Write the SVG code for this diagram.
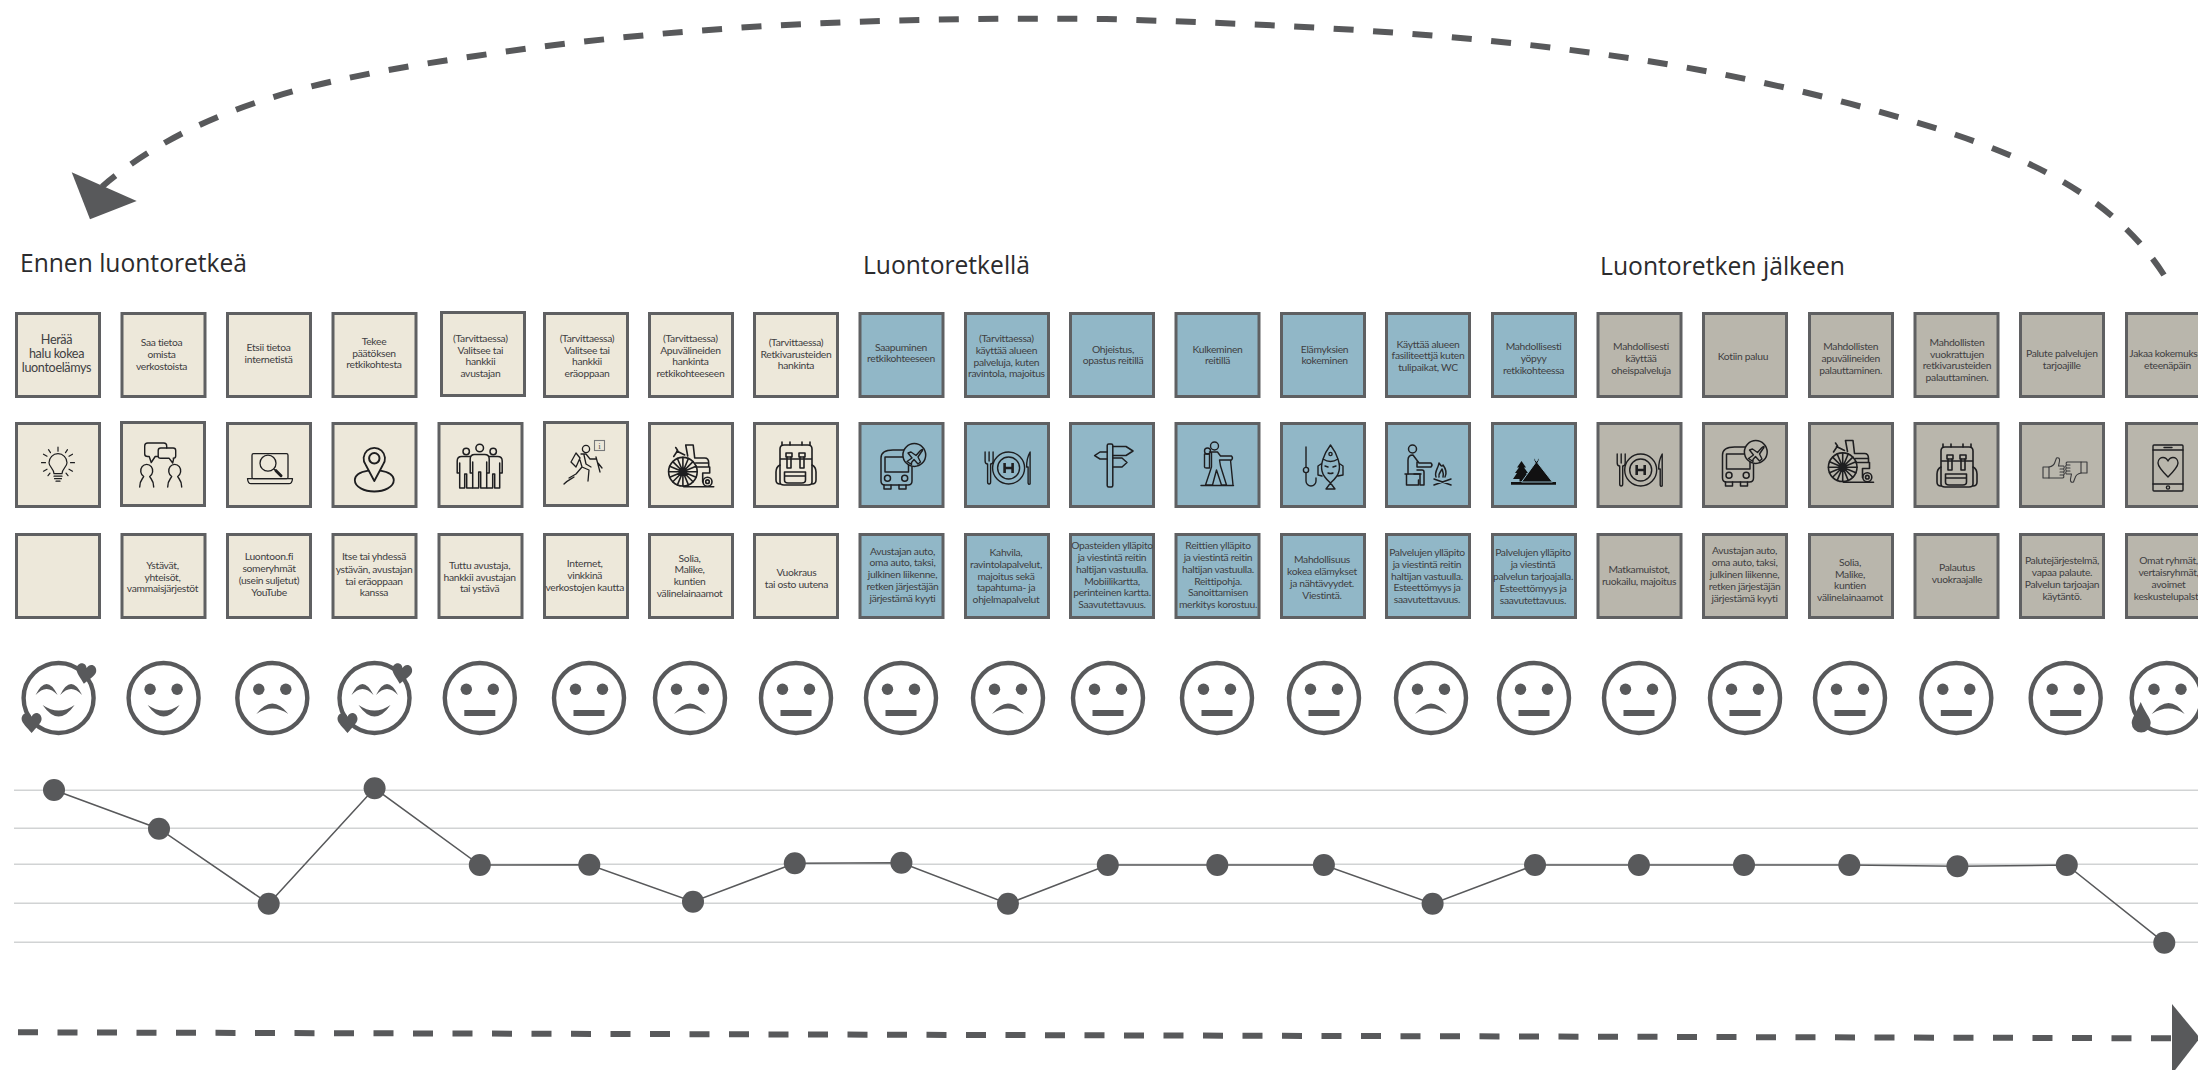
<svg xmlns="http://www.w3.org/2000/svg" width="2198" height="1070" viewBox="0 0 2198 1070">
<style>
.b{stroke:#5f6062;stroke-width:3}
.be{fill:#ede8da}.bl{fill:#91b7c7}.gr{fill:#b9b6ac}
.t{font-family:Lato,"Noto Sans",sans-serif;font-size:10.3px;letter-spacing:-.3px;fill:#3f4042;text-anchor:middle}
.h{font-family:"Open Sans","Noto Sans",sans-serif;font-size:25.5px;fill:#2b2b2d}
.ic{fill:none;stroke:#1e1e20;stroke-width:1.5;stroke-linejoin:round;stroke-linecap:round}
.fa{fill:#58595b}
.fo{fill:none;stroke:#58595b;stroke-width:4.4}
.dash{fill:none;stroke:#58595b;stroke-width:6;stroke-dasharray:20 19.5}
.grid{stroke:#d1d3d4;stroke-width:1.4}
.pl{fill:none;stroke:#58595b;stroke-width:1.5}
</style>
<defs>
<g id="i-bulb" class="ic" style="stroke-width:1.2"><path d="M-4,8C-4,3-9,1-9,-3A9,9 0 1 1 9,-3C9,1 4,3 4,8ZM-4,10.5H4M-3.5,13H3.5M-2,15.5H2M-16.5,-3H-12.5M-14.5,-11.5L-11,-9.5M-9.5,-16L-7.5,-13M0,-18.5V-14.5M9.5,-16L7.5,-13M14.5,-11.5L11,-9.5M16.5,-3H12.5M14.5,5.5L11,3.5M-14.5,5.5L-11,3.5M10,10L8,7.5M-10,10L-8,7.5"/></g>
<g id="i-chat" class="ic" style="stroke-width:1.4"><path d="M6,-17V-19Q6,-22 3,-22H-13Q-16,-22-16,-19V-11Q-16,-8.5-13,-8.5H-11.5L-9.5,-2.5L-5.5,-8.5H-3"/><path d="M0,-17H12.5Q15,-17 15,-14.5V-9Q15,-6.7 12.5,-6.7H13L12,-2L8.5,-6.7H0Q-2.5,-6.7-2.5,-9V-14.5Q-2.5,-17 0,-17Z"/><path d="M-21,22C-21,15-18,14-17,11.5A6,6.5 0 1 1 -11,11.5C-10,14-7,15-7,22"/><path d="M7,22C7,15 10,14 11,11.5A6,6.5 0 1 1 17,11.5C18,14 21,15 21,22"/></g>
<g id="i-lap" class="ic" style="stroke-width:1.3"><rect x="-18" y="-13" width="36" height="25" rx="1.5"/><path d="M-22.5,12H22.5Q22,17 19,17H-19Q-22,17-22.5,12Z"/><circle cx="-2" cy="-3.5" r="8"/><path d="M4,2.5L6,4"/><path d="M6,4L11,9" style="stroke-width:3"/></g>
<g id="i-pin" class="ic" style="stroke-width:1.8"><path d="M0,11L-8.5,-5A10.7,10.7 0 1 1 8.5,-5Z"/><circle cy="-11.7" r="5.2" style="stroke-width:2"/><path d="M-6,0.6C-14,2-19.5,5-19.5,10C-19.5,17-10,21.5 0,21.5C10,21.5 19.5,17 19.5,10C19.5,5 14,2 6,0.6"/></g>
<g id="i-three" class="ic" style="stroke-width:1.5"><circle cy="-18" r="3.8"/><circle cx="-13.5" cy="-14.5" r="3.2"/><circle cx="13.5" cy="-14.5" r="3.2"/><path d="M-9.5,7V-7Q-9.5,-11.5-5,-11.5H5Q9.5,-11.5 9.5,-7V7H7V-4M-7,-4V7H-9.5M-7,-4V22H-1V6H1V22H7V-4"/><path d="M-9.5,-9.5H-18Q-22.5,-9.5-22.5,-5V7H-20V-3M-20,-3V22H-15V8H-13V22H-7.5"/><path d="M9.5,-9.5H18Q22.5,-9.5 22.5,-5V7H20V-3M20,-3V22H15V8H13V22H7.5"/></g>
<g id="i-hike" class="ic" style="stroke-width:1.3"><circle cx="3" cy="-16" r="3.6"/><path d="M-7,-12L-12,-3L-7,2L-3,-7ZM-2,-11L3,-11L7,-6L13,-6M-3,-5L-1,2L-7,9L-14,13M-1,2L6,5L5,16M1,-10L3,-1L8,2M13,-8L17,7M15,-2L19,3M-19,19C-15,15-12,14-9,12"/></g>
<g id="i-wc" class="ic" style="stroke-width:1.6"><circle cx="-7.8" cy="5.7" r="14.3"/><circle cx="-7.8" cy="5.7" r="2.2"/><path d="M-7.8,-8.6V20M-22,5.7H6.5M-17.9,-4.4L2.3,15.8M2.3,-4.4L-17.9,15.8M-13.3,-7.5L-2.3,18.9M-2.3,-7.5L-13.3,18.9M-21,0.2L5.4,11.2M-21,11.2L5.4,0.2"/><path d="M-17,-9.5L-13,-15.5L-15,-18.5M-14,-15L-6,-11M-5,-21L2.5,-21L4,-8H14Q18,-8 18,-3V1H5M-5,-21L-3,-10M5,-3H18M8,1H19V7H12V16"/><circle cx="16.8" cy="15.7" r="4.5"/><circle cx="16.8" cy="15.7" r="1.8"/><path d="M-7,20.7H23"/></g>
<g id="i-pack" class="ic" style="stroke-width:1.6"><path d="M-12,-20H12Q16,-20 16,-16V17Q16,20 12,20H-12Q-16,20-16,17V-16Q-16,-20-12,-20ZM-16,-6H16"/><path d="M-14,-23V-20M-6,-23V-20M6,-23V-20M14,-23V-20"/><rect x="-10" y="-12" width="6" height="4"/><rect x="3" y="-12" width="6" height="4"/><path d="M-9,-8V3H-5V-8M4,-8V3H8V-8"/><path d="M-11.5,7H9.5V15Q9.5,18 6,18H-8Q-11.5,18-11.5,15ZM-11.5,11H9.5"/><path d="M-16,0Q-20,2-20,7V15Q-20,19-16,19M16,0Q20,2 20,7V15Q20,19 16,19"/></g>
<g id="i-bus"><g class="ic"><path d="M-22,-9Q-22,-17-10,-17H2Q9,-17 9,-9V14Q9,18 5,18H-18Q-22,18-22,14Z"/><rect x="-18" y="-10" width="23.5" height="15"/><circle cx="-15.5" cy="11.3" r="3"/><circle cx="1.7" cy="11.3" r="3"/><path d="M-19,18V22H-12V18M-4,18V22H3V18"/></g><circle cx="11.3" cy="-12" r="11.4" fill="currentColor" stroke="#1e1e20" stroke-width="1.5"/><g class="ic" style="stroke-width:1.4"><path d="M4,-5.5L9,-9L5,-14L8,-15L13,-11.5L17,-16Q19,-18 19.5,-17.5Q20,-16.5 18,-14.5L15,-10L17.5,-5L15,-3L11,-7.5L8.5,-4.5V-2.5Z"/></g></g>
<g id="i-plate" class="ic" style="stroke-width:1.4"><circle r="16"/><circle r="11"/><path d="M-4,-5V5M4,-5V5M-4,0H4" style="stroke-width:2.6;stroke-linecap:butt"/><path d="M-23.5,-16V-7Q-23.5,-4-21,-4V14Q-21,16-19.5,16Q-18,16-18,14V-4Q-15.5,-4-15.5,-7V-16M-19.5,-16V-7"/><path d="M21.5,-16Q18,-10 18,-1H19.5V15Q20,17 21.5,16Z"/></g>
<g id="i-sign" class="ic" style="stroke-width:1.5"><rect x="-2.8" y="-21" width="5.6" height="43" rx="1.5"/><path d="M2.8,-18.5H16L23,-14L16,-9.5H2.8M2.8,-7H12L17,-2.5L12,2H2.8M-2.8,-13H-10L-15.4,-9.3L-10,-6H-2.8"/></g>
<g id="i-hike2" class="ic" style="stroke-width:1.4"><circle cx="-3" cy="-18" r="4"/><circle cx="-10" cy="-13" r="3"/><path d="M-13,-10V3Q-13,4-11,4H-8V-10ZM-8,-12H0L3,-8H14Q16,-6 14,-4H2L3,2L9,21H4L-1,6L-5,21H-12L-6,3V-12M13,-4L15.5,21M-16.5,21.5H16"/></g>
<g id="i-fish" class="ic" style="stroke-width:1.4"><path d="M-19,-20V0"/><circle cx="-19" cy="3" r="2.6"/><path d="M-19,5.6V14A5,5 0 0 0 -9,14L-9,11"/><path d="M5.5,-22C13,-12 15.5,-2 14,4C13,9 9,13 5.5,16C2,13-2,9-3,4C-4.5,-2-2,-12 5.5,-22ZM5.5,16L10,22H1ZM15,-3L18,-1V8L13,9M-4,-3L-7,-1V8L-3,9M-2,-8Q5.5,-3 13,-8M0,-1L3,0M8,0L11,-1M3,6Q5.5,7 8,6"/><circle cx="5.5" cy="-13" r="1.6"/></g>
<g id="i-fire" class="ic" style="stroke-width:1.5"><circle cx="-15.5" cy="-17" r="4"/><path d="M-20,8V-6Q-20,-11-15,-11L-9,-3H3Q5,-1 3,1H-11M-11,1V-4M-11,4H-6Q-4,4-4,6V19H-8V8H-14"/><path d="M-23,8H-7M-21.5,8V19H-9.5V14"/><path d="M8,11C6,6 10,3 11,-3C13,0 14,1 15,-1C18,3 19,7 17,11M11,11C10,7 13,6 14,3C15,6 16,8 15,11M6,13L23,19M6,19L23,13"/></g>
<g id="i-tent"><path fill="#111" d="M-22.5,10H22.5V12.7H-22.5ZM-12,-11L-7.5,-4.5H-9.5L-5.5,1H-7.5L-3.5,7H-10V9.5H-14V7H-20.5L-16.5,1H-18.5L-14.5,-4.5H-16.5Z"/><path fill="#111" stroke="#91b7c7" stroke-width="1" d="M-12,10L1.8,-9L-0.5,-13.5H0.8L3,-10.5L5.2,-13.5H6.5L4.2,-9L19,10Z"/></g>
<g id="i-thumb"><g id="th" class="ic" style="stroke-width:1.1;stroke:#3a3a3c"><rect x="-22" y="-3" width="6" height="11"/><path d="M-16,-3Q-11,-4-10,-8L-8.5,-12Q-5,-13-5.5,-9L-6.5,-4H-1.5Q0,-3-1.5,-1H-5M-1.5,-1Q0,1-1.5,2H-5M-1.5,2Q0,4-1.5,5H-5M-1.5,5Q-0.5,8-2.5,8H-16"/></g><use href="#th" transform="rotate(180)"/></g>
<g id="i-phone" class="ic" style="stroke-width:1.4"><rect x="-15" y="-23" width="30" height="46" rx="1"/><path d="M-15,-18H15M-15,16H15M-4,-20.5H4"/><circle cy="19.5" r="1.6"/><path d="M0,9C-5,4-10,-1-10,-5C-10,-9-7,-10.5-5,-10.5C-2.5,-10.5-1,-9 0,-7C1,-9 2.5,-10.5 5,-10.5C7,-10.5 10,-9 10,-5C10,-1 5,4 0,9Z"/></g>
<path id="hrt" d="M0,10C-4,5-10,0-10,-4C-10,-8-7,-10-5,-10C-3,-10-1,-9 0,-6C1,-9 3,-10 5,-10C7,-10 10,-8 10,-4C10,0 4,5 0,10Z"/>
<g id="f-n"><circle r="35" class="fo"/><circle cx="-13.5" cy="-8.7" r="5.7" class="fa"/><circle cx="13.5" cy="-8.7" r="5.7" class="fa"/><rect x="-15.5" y="12" width="31" height="6" class="fa"/></g>
<g id="f-h"><circle r="35" class="fo"/><circle cx="-13.5" cy="-8.7" r="5.7" class="fa"/><circle cx="13.5" cy="-8.7" r="5.7" class="fa"/><path class="fa" d="M-16,7Q0,18 16,7Q0,30-16,7Z"/></g>
<g id="f-s"><circle r="35" class="fo"/><circle cx="-13.5" cy="-8.7" r="5.7" class="fa"/><circle cx="13.5" cy="-8.7" r="5.7" class="fa"/><path class="fa" d="M-16,16Q0,-5 16,16Q0,5-16,16Z"/></g>
<g id="f-l"><circle r="35" class="fo"/><path class="fa" d="M-23,-3Q-12,-25-1,-3Q-12,-15-23,-3ZM1.5,-3Q12.5,-25 23.5,-3Q12.5,-15 1.5,-3ZM-16,7Q0,18 16,7Q0,30-16,7Z"/><use href="#hrt" class="fa" transform="translate(27,-24) rotate(10)"/><use href="#hrt" class="fa" transform="translate(-27,25)"/></g>
<g id="f-c"><circle r="35" class="fo"/><circle cx="-12.7" cy="-8.7" r="5.7" class="fa"/><circle cx="14.3" cy="-8.7" r="5.7" class="fa"/><path class="fa" d="M-15,16Q2,-6 18,16Q2,5-15,16Z"/><path class="fa" d="M-26,4C-22,14-16,20-16,25A9.5,9.5 0 0 1 -35,25C-35,20-30,14-26,4Z"/></g>
</defs>
<g id="headings">
<text class="h" x="20" y="272" textLength="227" lengthAdjust="spacingAndGlyphs">Ennen luontoretkeä</text>
<text class="h" x="863" y="274" textLength="167" lengthAdjust="spacingAndGlyphs">Luontoretkellä</text>
<text class="h" x="1600" y="275" textLength="245" lengthAdjust="spacingAndGlyphs">Luontoretken jälkeen</text>
</g>
<g id="connectors">
<path class="dash" d="M2164,275C2098,172 1969,136 1850,103.7C1607,38.7 1358,27 1106,19C895,17 684.6,24 475.6,56C342,76 205,98.7 102,186.7"/>
<path class="fa" d="M71.7,172.3L136.7,201L90,219.3Z"/>
<path class="dash" d="M18,1032.3L2172,1038.3"/>
<path class="fa" d="M2172,1004L2200,1038L2172,1074Z"/>
<g id="grid" class="grid"><path d="M14,790.3H2198M14,828.3H2198M14,864.3H2198M14,903.3H2198M14,942.3H2198"/></g>
<path class="pl" d="M54,790L159,828.7L268.7,903.7L374.6,788.3L479.8,865L589.3,864.7L693,901.7L794.8,863.3L901.4,862.7L1008,903.7L1107.8,865L1217.3,865L1323.9,865L1432.6,903.7L1535,865L1638.9,865L1744,865L1849.3,865L1957.4,866.3L2066.8,865L2164.3,942.7"/>
</g>
<g id="chart-points" class="fa">
<circle cx="54" cy="790" r="11"/><circle cx="159" cy="828.7" r="11"/><circle cx="268.7" cy="903.7" r="11"/><circle cx="374.6" cy="788.3" r="11"/><circle cx="479.8" cy="865" r="11"/><circle cx="589.3" cy="864.7" r="11"/><circle cx="693" cy="901.7" r="11"/><circle cx="794.8" cy="863.3" r="11"/><circle cx="901.4" cy="862.7" r="11"/><circle cx="1008" cy="903.7" r="11"/><circle cx="1107.8" cy="865" r="11"/><circle cx="1217.3" cy="865" r="11"/><circle cx="1323.9" cy="865" r="11"/><circle cx="1432.6" cy="903.7" r="11"/><circle cx="1535" cy="865" r="11"/><circle cx="1638.9" cy="865" r="11"/><circle cx="1744" cy="865" r="11"/><circle cx="1849.3" cy="865" r="11"/><circle cx="1957.4" cy="866.3" r="11"/><circle cx="2066.8" cy="865" r="11"/><circle cx="2164.3" cy="942.7" r="11"/>
</g>
<g id="faces">
<use href="#f-l" x="58.6" y="698"/><use href="#f-h" x="163.6" y="698"/><use href="#f-s" x="272.3" y="698"/><use href="#f-l" x="374.5" y="698"/><use href="#f-n" x="479.8" y="698"/><use href="#f-n" x="589" y="698"/><use href="#f-s" x="690" y="698"/><use href="#f-n" x="796" y="698"/><use href="#f-n" x="901" y="698"/><use href="#f-s" x="1008" y="698"/><use href="#f-n" x="1108" y="698"/><use href="#f-n" x="1217" y="698"/><use href="#f-n" x="1324" y="698"/><use href="#f-s" x="1431" y="698"/><use href="#f-n" x="1534" y="698"/><use href="#f-n" x="1639" y="698"/><use href="#f-n" x="1745" y="698"/><use href="#f-n" x="1850" y="698"/><use href="#f-n" x="1956.3" y="698"/><use href="#f-n" x="2065.7" y="698"/><use href="#f-c" x="2166.7" y="698"/>
</g>
<g id="c1"><g id="c1a"><rect class="b be" x="16.5" y="313.5" width="83" height="83"/><text class="t" style="font-size:12.6px;letter-spacing:-.35px"><tspan x="56.5" y="344">Herää</tspan><tspan x="56.5" y="358">halu kokea</tspan><tspan x="56.5" y="372">luontoelämys</tspan></text></g>
<g id="c1b"><rect class="b be" x="16.5" y="423.5" width="83" height="83"/><use href="#i-bulb" x="58" y="465.7"/></g>
<g id="c1c"><rect class="b be" x="16.5" y="534.5" width="83" height="83"/></g></g>
<g id="c2"><g id="c2a"><rect class="b be" x="122" y="313.5" width="83" height="83"/><text class="t"><tspan x="161.5" y="346.2">Saa tietoa</tspan><tspan x="161.5" y="358">omista</tspan><tspan x="161.5" y="369.5">verkostoista</tspan></text></g>
<g id="c2b"><rect class="b be" x="121.5" y="422.5" width="83" height="83"/><use href="#i-chat" x="160.7" y="465"/></g>
<g id="c2c"><rect class="b be" x="122" y="534.5" width="83" height="83"/><text class="t"><tspan x="162.5" y="568.5">Ystävät,</tspan><tspan x="162.5" y="580.5">yhteisöt,</tspan><tspan x="162.5" y="591.5">vammaisjärjestöt</tspan></text></g></g>
<g id="c3"><g id="c3a"><rect class="b be" x="227.5" y="313.5" width="83" height="83"/><text class="t"><tspan x="268.6" y="351">Etsii tietoa</tspan><tspan x="268.6" y="363">internetistä</tspan></text></g>
<g id="c3b"><rect class="b be" x="227.5" y="423.5" width="83" height="83"/><use href="#i-lap" x="270" y="466.7"/></g>
<g id="c3c"><rect class="b be" x="227.5" y="534.5" width="83" height="83"/><text class="t"><tspan x="269" y="560">Luontoon.fi</tspan><tspan x="269" y="572">someryhmät</tspan><tspan x="269" y="583.5">(usein suljetut)</tspan><tspan x="269" y="595.5">YouTube</tspan></text></g></g>
<g id="c4"><g id="c4a"><rect class="b be" x="333" y="313.5" width="83" height="83"/><text class="t"><tspan x="374" y="345">Tekee</tspan><tspan x="374" y="356.5">päätöksen</tspan><tspan x="374" y="368.2">retkikohtesta</tspan></text></g>
<g id="c4b"><rect class="b be" x="333" y="423.5" width="83" height="83"/><use href="#i-pin" x="374.3" y="470"/></g>
<g id="c4c"><rect class="b be" x="333" y="534.5" width="83" height="83"/><text class="t"><tspan x="374" y="560">Itse tai yhdessä</tspan><tspan x="374" y="572.5">ystävän, avustajan</tspan><tspan x="374" y="584.5">tai eräoppaan</tspan><tspan x="374" y="596">kanssa</tspan></text></g></g>
<g id="c5"><g id="c5a"><rect class="b be" x="441.5" y="312.5" width="83" height="83"/><text class="t"><tspan x="480.4" y="342">(Tarvittaessa)</tspan><tspan x="480.4" y="354">Valitsee tai</tspan><tspan x="480.4" y="365">hankkii</tspan><tspan x="480.4" y="377">avustajan</tspan></text></g>
<g id="c5b"><rect class="b be" x="439" y="423.5" width="83" height="83"/><use href="#i-three" x="479.7" y="466"/></g>
<g id="c5c"><rect class="b be" x="439" y="534.5" width="83" height="83"/><text class="t"><tspan x="479.6" y="568.5">Tuttu avustaja,</tspan><tspan x="479.6" y="580.5">hankkii avustajan</tspan><tspan x="479.6" y="591.5">tai ystävä</tspan></text></g></g>
<g id="c6"><g id="c6a"><rect class="b be" x="544.5" y="313.5" width="83" height="83"/><text class="t"><tspan x="587" y="342">(Tarvittaessa)</tspan><tspan x="587" y="354">Valitsee tai</tspan><tspan x="587" y="365">hankkii</tspan><tspan x="587" y="377">eräoppaan</tspan></text></g>
<g id="c6b"><rect class="b be" x="544.5" y="422.5" width="83" height="83"/><use href="#i-hike" x="583" y="465"/><rect x="594.5" y="440.5" width="10" height="10" fill="none" stroke="#77787a" stroke-width="1.1"/><text x="599.5" y="448.5" style="font-family:'Liberation Serif',serif;font-size:9px;fill:#58595b;text-anchor:middle">i</text></g>
<g id="c6c"><rect class="b be" x="544.5" y="534.5" width="83" height="83"/><text class="t"><tspan x="584.7" y="566.5">Internet,</tspan><tspan x="584.7" y="578.5">vinkkinä</tspan><tspan x="584.7" y="590.5">verkostojen kautta</tspan></text></g></g>
<g id="c7"><g id="c7a"><rect class="b be" x="649.5" y="313.5" width="83" height="83"/><text class="t"><tspan x="690.4" y="342">(Tarvittaessa)</tspan><tspan x="690.4" y="354">Apuvälineiden</tspan><tspan x="690.4" y="365">hankinta</tspan><tspan x="690.4" y="377">retkikohteeseen</tspan></text></g>
<g id="c7b"><rect class="b be" x="649.5" y="423.5" width="83" height="83"/><use href="#i-wc" x="690.7" y="466"/></g>
<g id="c7c"><rect class="b be" x="649.5" y="534.5" width="83" height="83"/><text class="t"><tspan x="689.6" y="562">Solia,</tspan><tspan x="689.6" y="573">Malike,</tspan><tspan x="689.6" y="585">kuntien</tspan><tspan x="689.6" y="597">välinelainaamot</tspan></text></g></g>
<g id="c8"><g id="c8a"><rect class="b be" x="754.5" y="313.5" width="83" height="83"/><text class="t"><tspan x="796" y="346">(Tarvittaessa)</tspan><tspan x="796" y="358">Retkivarusteiden</tspan><tspan x="796" y="369">hankinta</tspan></text></g>
<g id="c8b"><rect class="b be" x="754.5" y="423.5" width="83" height="83"/><use href="#i-pack" x="796" y="465"/></g>
<g id="c8c"><rect class="b be" x="754.5" y="534.5" width="83" height="83"/><text class="t"><tspan x="796.4" y="575.5">Vuokraus</tspan><tspan x="796.4" y="587.5">tai osto uutena</tspan></text></g></g>
<g id="c9" color="#91b7c7"><g id="c9a"><rect class="b bl" x="860" y="313.5" width="83" height="83"/><text class="t"><tspan x="901" y="351">Saapuminen</tspan><tspan x="901" y="362">retkikohteeseen</tspan></text></g>
<g id="c9b"><rect class="b bl" x="860" y="423.5" width="83" height="83"/><use href="#i-bus" x="903" y="467"/></g>
<g id="c9c"><rect class="b bl" x="860" y="534.5" width="83" height="83"/><text class="t"><tspan x="902.5" y="554.5">Avustajan auto,</tspan><tspan x="902.5" y="565.5">oma auto, taksi,</tspan><tspan x="902.5" y="577.5">julkinen liikenne,</tspan><tspan x="902.5" y="589.5">retken järjestäjän</tspan><tspan x="902.5" y="601.5">järjestämä kyyti</tspan></text></g></g>
<g id="c10"><g id="c10a"><rect class="b bl" x="965.5" y="313.5" width="83" height="83"/><text class="t"><tspan x="1006.4" y="342">(Tarvittaessa)</tspan><tspan x="1006.4" y="354">käyttää alueen</tspan><tspan x="1006.4" y="366">palveluja, kuten</tspan><tspan x="1006.4" y="377">ravintola, majoitus</tspan></text></g>
<g id="c10b"><rect class="b bl" x="965.5" y="423.5" width="83" height="83"/><use href="#i-plate" x="1008.6" y="468"/></g>
<g id="c10c"><rect class="b bl" x="965.5" y="534.5" width="83" height="83"/><text class="t"><tspan x="1006" y="555.5">Kahvila,</tspan><tspan x="1006" y="567.5">ravintolapalvelut,</tspan><tspan x="1006" y="579.5">majoitus sekä</tspan><tspan x="1006" y="590.5">tapahtuma- ja</tspan><tspan x="1006" y="602.5">ohjelmapalvelut</tspan></text></g></g>
<g id="c11"><g id="c11a"><rect class="b bl" x="1070.5" y="313.5" width="83" height="83"/><text class="t"><tspan x="1113" y="353">Ohjeistus,</tspan><tspan x="1113" y="364">opastus reitillä</tspan></text></g>
<g id="c11b"><rect class="b bl" x="1070.5" y="423.5" width="83" height="83"/><use href="#i-sign" x="1110" y="465"/></g>
<g id="c11c"><rect class="b bl" x="1070.5" y="534.5" width="83" height="83"/><text class="t"><tspan x="1112" y="548.5">Opasteiden ylläpito</tspan><tspan x="1112" y="560.5">ja viestintä reitin</tspan><tspan x="1112" y="572.5">haltijan vastuulla.</tspan><tspan x="1112" y="584.5">Mobiilikartta,</tspan><tspan x="1112" y="595.5">perinteinen kartta.</tspan><tspan x="1112" y="607.5">Saavutettavuus.</tspan></text></g></g>
<g id="c12"><g id="c12a"><rect class="b bl" x="1176" y="313.5" width="83" height="83"/><text class="t"><tspan x="1217.5" y="353">Kulkeminen</tspan><tspan x="1217.5" y="364">reitillä</tspan></text></g>
<g id="c12b"><rect class="b bl" x="1176" y="423.5" width="83" height="83"/><use href="#i-hike2" x="1217.5" y="464"/></g>
<g id="c12c"><rect class="b bl" x="1176" y="534.5" width="83" height="83"/><text class="t"><tspan x="1218" y="548.5">Reittien ylläpito</tspan><tspan x="1218" y="560.5">ja viestintä reitin</tspan><tspan x="1218" y="572.5">haltijan vastuulla.</tspan><tspan x="1218" y="584.5">Reittipohja.</tspan><tspan x="1218" y="595.5">Sanoittamisen</tspan><tspan x="1218" y="607.5">merkitys korostuu.</tspan></text></g></g>
<g id="c13"><g id="c13a"><rect class="b bl" x="1281.5" y="313.5" width="83" height="83"/><text class="t"><tspan x="1324.6" y="353">Elämyksien</tspan><tspan x="1324.6" y="364">kokeminen</tspan></text></g>
<g id="c13b"><rect class="b bl" x="1281.5" y="423.5" width="83" height="83"/><use href="#i-fish" x="1325" y="467"/></g>
<g id="c13c"><rect class="b bl" x="1281.5" y="534.5" width="83" height="83"/><text class="t"><tspan x="1322" y="562.5">Mahdollisuus</tspan><tspan x="1322" y="574.5">kokea elämykset</tspan><tspan x="1322" y="586.5">ja nähtävyydet.</tspan><tspan x="1322" y="598.5">Viestintä.</tspan></text></g></g>
<g id="c14"><g id="c14a"><rect class="b bl" x="1386.5" y="313.5" width="83" height="83"/><text class="t"><tspan x="1428" y="347.5">Käyttää alueen</tspan><tspan x="1428" y="358.7">fasiliteettjä kuten</tspan><tspan x="1428" y="370.7">tulipaikat, WC</tspan></text></g>
<g id="c14b"><rect class="b bl" x="1386.5" y="423.5" width="83" height="83"/><use href="#i-fire" x="1428" y="466"/></g>
<g id="c14c"><rect class="b bl" x="1386.5" y="534.5" width="83" height="83"/><text class="t"><tspan x="1427" y="555.5">Palvelujen ylläpito</tspan><tspan x="1427" y="567.5">ja viestintä reitin</tspan><tspan x="1427" y="579.5">haltijan vastuulla.</tspan><tspan x="1427" y="590.5">Esteettömyys ja</tspan><tspan x="1427" y="602.5">saavutettavuus.</tspan></text></g></g>
<g id="c15"><g id="c15a"><rect class="b bl" x="1492.5" y="313.5" width="83" height="83"/><text class="t"><tspan x="1533.6" y="349.5">Mahdollisesti</tspan><tspan x="1533.6" y="361.5">yöpyy</tspan><tspan x="1533.6" y="373.5">retkikohteessa</tspan></text></g>
<g id="c15b"><rect class="b bl" x="1492.5" y="423.5" width="83" height="83"/><use href="#i-tent" x="1533.5" y="472"/></g>
<g id="c15c"><rect class="b bl" x="1492.5" y="534.5" width="83" height="83"/><text class="t"><tspan x="1533" y="555.5">Palvelujen ylläpito</tspan><tspan x="1533" y="567.5">ja viestintä</tspan><tspan x="1533" y="579.5">palvelun tarjoajalla.</tspan><tspan x="1533" y="591.5">Esteettömyys ja</tspan><tspan x="1533" y="603.5">saavutettavuus.</tspan></text></g></g>
<g id="c16"><g id="c16a"><rect class="b gr" x="1598" y="313.5" width="83" height="83"/><text class="t"><tspan x="1641" y="349.5">Mahdollisesti</tspan><tspan x="1641" y="361.5">käyttää</tspan><tspan x="1641" y="373.5">oheispalveluja</tspan></text></g>
<g id="c16b"><rect class="b gr" x="1598" y="423.5" width="83" height="83"/><use href="#i-plate" x="1640.7" y="470"/></g>
<g id="c16c"><rect class="b gr" x="1598" y="534.5" width="83" height="83"/><text class="t"><tspan x="1639" y="572.5">Matkamuistot,</tspan><tspan x="1639" y="584.5">ruokailu, majoitus</tspan></text></g></g>
<g id="c17" color="#b9b6ac"><g id="c17a"><rect class="b gr" x="1703.5" y="313.5" width="83" height="83"/><text class="t" x="1742.9" y="360">Kotiin paluu</text></g>
<g id="c17b"><rect class="b gr" x="1703.5" y="423.5" width="83" height="83"/><use href="#i-bus" x="1744.5" y="464"/></g>
<g id="c17c"><rect class="b gr" x="1703.5" y="534.5" width="83" height="83"/><text class="t"><tspan x="1744.6" y="554">Avustajan auto,</tspan><tspan x="1744.6" y="565.5">oma auto, taksi,</tspan><tspan x="1744.6" y="577.5">julkinen liikenne,</tspan><tspan x="1744.6" y="589.5">retken järjestäjän</tspan><tspan x="1744.6" y="601.5">järjestämä kyyti</tspan></text></g></g>
<g id="c18"><g id="c18a"><rect class="b gr" x="1809.5" y="313.5" width="83" height="83"/><text class="t"><tspan x="1850.7" y="350">Mahdollisten</tspan><tspan x="1850.7" y="362">apuvälineiden</tspan><tspan x="1850.7" y="374">palauttaminen.</tspan></text></g>
<g id="c18b"><rect class="b gr" x="1809.5" y="423.5" width="83" height="83"/><use href="#i-wc" x="1850.5" y="461.5"/></g>
<g id="c18c"><rect class="b gr" x="1809.5" y="534.5" width="83" height="83"/><text class="t"><tspan x="1850" y="565.5">Solia,</tspan><tspan x="1850" y="577.5">Malike,</tspan><tspan x="1850" y="588.5">kuntien</tspan><tspan x="1850" y="600.5">välinelainaamot</tspan></text></g></g>
<g id="c19"><g id="c19a"><rect class="b gr" x="1915" y="313.5" width="83" height="83"/><text class="t"><tspan x="1957" y="346">Mahdollisten</tspan><tspan x="1957" y="358">vuokrattujen</tspan><tspan x="1957" y="369">retkivarusteiden</tspan><tspan x="1957" y="381">palauttaminen.</tspan></text></g>
<g id="c19b"><rect class="b gr" x="1915" y="423.5" width="83" height="83"/><use href="#i-pack" x="1957" y="467"/></g>
<g id="c19c"><rect class="b gr" x="1915" y="534.5" width="83" height="83"/><text class="t"><tspan x="1957" y="570.5">Palautus</tspan><tspan x="1957" y="582.5">vuokraajalle</tspan></text></g></g>
<g id="c20"><g id="c20a"><rect class="b gr" x="2020.5" y="313.5" width="83" height="83"/><text class="t"><tspan x="2061.8" y="357">Palute palvelujen</tspan><tspan x="2061.8" y="369">tarjoajille</tspan></text></g>
<g id="c20b"><rect class="b gr" x="2020.5" y="423.5" width="83" height="83"/><use href="#i-thumb" x="2065" y="470"/></g>
<g id="c20c"><rect class="b gr" x="2020.5" y="534.5" width="83" height="83"/><text class="t"><tspan x="2062" y="563.5">Palutejärjestelmä,</tspan><tspan x="2062" y="575.5">vapaa palaute.</tspan><tspan x="2062" y="587.5">Palvelun tarjoajan</tspan><tspan x="2062" y="599.5">käytäntö.</tspan></text></g></g>
<g id="c21"><g id="c21a"><rect class="b gr" x="2126.5" y="313.5" width="83" height="83"/><text class="t"><tspan x="2164.5" y="357">Jakaa kokemuksi</tspan><tspan x="2167.5" y="369">eteenäpäin</tspan></text></g>
<g id="c21b"><rect class="b gr" x="2126.5" y="423.5" width="83" height="83"/><use href="#i-phone" x="2168" y="468"/></g>
<g id="c21c"><rect class="b gr" x="2126.5" y="534.5" width="83" height="83"/><text class="t"><tspan x="2168.5" y="563.5">Omat ryhmät,</tspan><tspan x="2168.5" y="575.5">vertaisryhmät,</tspan><tspan x="2168.5" y="587.5">avoimet</tspan><tspan x="2168.5" y="599.5">keskustelupalsta</tspan></text></g></g>
</svg>
